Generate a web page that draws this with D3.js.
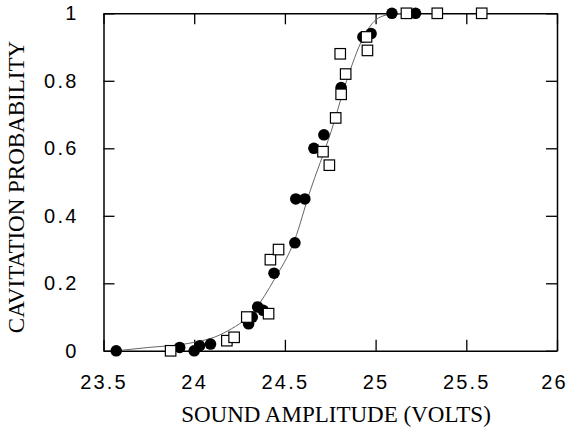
<!DOCTYPE html>
<html>
<head>
<meta charset="utf-8">
<script src="https://cdn.jsdelivr.net/npm/d3@7"></script>
<style>
  body { margin: 0; background: #fff; }
  .tick text { font-family: "Liberation Sans", Arial, sans-serif; font-size: 20px; letter-spacing: 2.2px; fill: #000; }
  .title { font-family: "Liberation Serif", "Times New Roman", serif; font-size: 23px; fill: #000; }
</style>
</head>
<body>
<div id="chart"></div>
<script>
// filled circles (sound amplitude, probability)
var circleX = [23.57, 23.92, 24.00, 24.03, 24.09, 24.30, 24.32, 24.35, 24.38, 24.44, 24.555, 24.56, 24.61, 24.66, 24.715, 24.81, 24.93, 24.975, 25.09, 25.22];
var circleY = [0.00, 0.01, 0.00, 0.015, 0.02, 0.08, 0.10, 0.13, 0.12, 0.23, 0.32, 0.45, 0.45, 0.60, 0.64, 0.78, 0.93, 0.94, 1.00, 1.00];

// open squares
var squareX = [23.87, 24.18, 24.22, 24.29, 24.41, 24.42, 24.465, 24.71, 24.745, 24.78, 24.81, 24.835, 24.805, 24.955, 24.95, 25.17, 25.34, 25.585];
var squareY = [0.00, 0.03, 0.04, 0.10, 0.11, 0.27, 0.30, 0.59, 0.55, 0.69, 0.76, 0.82, 0.88, 0.89, 0.93, 1.00, 1.00, 1.00];

// fitted curve
var fitX = [23.57, 23.75, 23.97, 24.16, 24.34, 24.44, 24.555, 24.635, 24.755, 24.84, 24.93, 25.00, 25.07, 25.15];
var fitY = [0.000, 0.010, 0.022, 0.052, 0.126, 0.21, 0.33, 0.467, 0.65, 0.80, 0.926, 0.98, 0.996, 1.0];

var xTicks = [23.5, 24, 24.5, 25, 25.5, 26];
var yTicks = [0, 0.2, 0.4, 0.6, 0.8, 1];

var margin = {top: 13.3, right: 12, bottom: 79.2, left: 103.5},
    width = 569 - margin.left - margin.right,
    height = 430 - margin.top - margin.bottom;

var svg = d3.select("#chart")
  .append("svg")
    .attr("width", 569)
    .attr("height", 430)
  .append("g")
    .attr("transform", "translate(" + margin.left + "," + margin.top + ")");

var x = d3.scaleLinear().domain([23.5, 26]).range([0, width]);
var y = d3.scaleLinear().domain([0, 1]).range([height, 0]);

var fmt = function(d) { return String(d); };

// axes with inward ticks on all four sides
var bottom = svg.append("g")
  .attr("transform", "translate(0," + height + ")")
  .call(d3.axisBottom(x).tickValues(xTicks).tickFormat(fmt).tickSize(-11).tickSizeOuter(0).tickPadding(24));
bottom.selectAll(".tick text").attr("dy", "0.71em");
// keep the last label inside the picture
bottom.selectAll(".tick text").filter(function(d) { return d === 26; }).attr("dx", -3);

svg.append("g")
  .call(d3.axisTop(x).tickValues(xTicks).tickFormat("").tickSize(-11).tickSizeOuter(0));

svg.append("g")
  .call(d3.axisLeft(y).tickValues(yTicks).tickFormat(fmt).tickSize(-11).tickSizeOuter(0).tickPadding(25));

svg.append("g")
  .attr("transform", "translate(" + width + ",0)")
  .call(d3.axisRight(y).tickValues(yTicks).tickFormat("").tickSize(-11).tickSizeOuter(0));

svg.selectAll(".domain").attr("stroke", "#000").attr("stroke-width", 1.5);
svg.selectAll(".tick line").attr("stroke", "#000").attr("stroke-width", 1.3);

// fit line
var line = d3.line()
  .x(function(d, i) { return x(fitX[i]); })
  .y(function(d, i) { return y(fitY[i]); })
  .curve(d3.curveMonotoneX);

svg.append("path")
  .datum(fitX)
  .attr("d", line)
  .attr("fill", "none")
  .attr("stroke", "#666")
  .attr("stroke-width", 1);

// circles
svg.selectAll("circle.pt")
  .data(circleX)
  .enter()
  .append("circle")
    .attr("class", "pt")
    .attr("cx", function(d) { return x(d); })
    .attr("cy", function(d, i) { return y(circleY[i]); })
    .attr("r", 5.8)
    .attr("fill", "#000");

// squares
var s = 10.5;
svg.selectAll("rect.pt")
  .data(squareX)
  .enter()
  .append("rect")
    .attr("class", "pt")
    .attr("x", function(d) { return x(d) - s / 2; })
    .attr("y", function(d, i) { return y(squareY[i]) - s / 2; })
    .attr("width", s)
    .attr("height", s)
    .attr("fill", "#fff")
    .attr("stroke", "#000")
    .attr("stroke-width", 1.2);

// axis titles
svg.append("text")
  .attr("class", "title")
  .attr("x", 336 - margin.left)
  .attr("y", 422 - margin.top)
  .attr("text-anchor", "middle")
  .text("SOUND AMPLITUDE (VOLTS)");

svg.append("text")
  .attr("class", "title")
  .attr("transform", "translate(" + (24 - margin.left) + "," + (187 - margin.top) + ")rotate(-90)")
  .attr("text-anchor", "middle")
  .text("CAVITATION PROBABILITY");
</script>
</body>
</html>
